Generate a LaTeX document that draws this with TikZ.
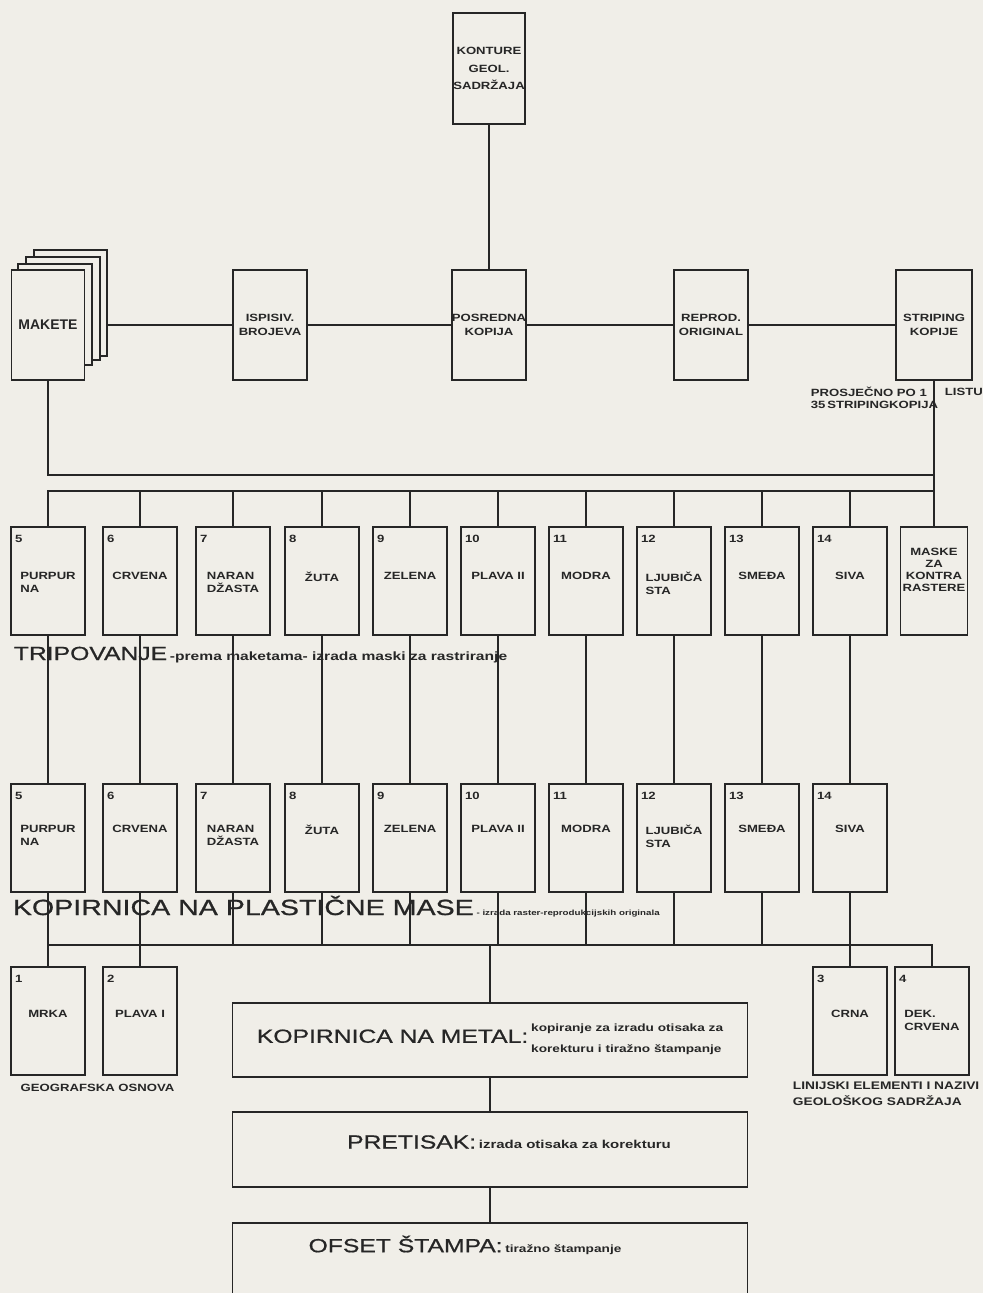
\documentclass[tikz,border=0pt]{standalone}
\usepackage{fontspec}
\setmainfont{Liberation Sans}
\newfontfamily\widesans[FakeStretch=1.25]{Liberation Sans}
\newfontfamily\widetitle[FakeStretch=1.3]{Liberation Sans}
\newfontfamily\widebig[FakeStretch=1.3,FakeBold=0.8]{Liberation Sans}
\usetikzlibrary{positioning}
\definecolor{ink}{HTML}{262626}
\definecolor{paper}{HTML}{F0EEE8}
\newcommand\bigttl{\widebig\fontsize{19}{22}\selectfont}
\newcommand\smallttl{\widetitle\bfseries\fontsize{10.5}{12}\selectfont}
\newcommand\colourlist{48/5/left/{PURPUR\\NA}, 140/6/center/CRVENA,
  233/7/left/{NARAN\\DŽASTA}, 322/8/center/ŽUTA, 410/9/center/ZELENA,
  498/10/center/PLAVA II, 586/11/center/MODRA, 674/12/left/{LJUBIČA\\STA},
  762/13/center/SMEĐA, 850/14/center/SIVA}

\begin{document}
\begin{tikzpicture}[x=1pt, y=-1pt, line width=1.8pt, color=ink,
  box/.style={draw, fill=paper, minimum width=74pt, minimum height=108pt,
    inner sep=0pt, align=center, font=\widesans\bfseries\fontsize{10.5}{14}\selectfont},
  sheet/.style={draw, fill=paper, inner sep=0pt},
  num/.style={anchor=north west, inner sep=0pt,
    font=\widesans\bfseries\fontsize{10.5}{12}\selectfont},
  lbl/.style={anchor=north, inner sep=0pt,
    font=\widesans\bfseries\fontsize{10.5}{13.5}\selectfont},
  note/.style={inner sep=0pt, font=\widesans\bfseries\fontsize{10.5}{12.5}\selectfont},
  wbox/.style={draw, fill=paper, minimum width=515pt, minimum height=74pt, inner sep=0pt}]
  \fill[paper] (0,0) rectangle (983,1293);
  \useasboundingbox (0,0) rectangle (983,1293);

  % top row
  \node[box, minimum width=72pt, minimum height=111pt,
    font=\widesans\bfseries\fontsize{10.5}{17.5}\selectfont] (kon) at (489,68.5)
    {KONTURE\\GEOL.\\SADRŽAJA};
  \node[sheet, minimum width=73pt, minimum height=106pt] (mak3) at (70.5,303) {};
  \node[sheet, minimum width=74pt, minimum height=103pt] (mak2) at (63,308.5) {};
  \node[sheet, minimum width=74pt, minimum height=101pt] (mak1) at (55,314.5) {};
  \node[box, minimum width=73pt, minimum height=110pt,
    font=\bfseries\fontsize{14}{16}\selectfont] (mak) at (48,325) {MAKETE};
  \node[box, minimum height=110pt] (isp) at (270,325) {ISPISIV.\\BROJEVA};
  \node[box, minimum height=110pt] (pos) at (489,325) {POSREDNA\\KOPIJA};
  \node[box, minimum height=110pt] (rep) at (711,325) {REPROD.\\ORIGINAL};
  \node[box, minimum width=76pt, minimum height=110pt] (str) at (934,325) {STRIPING\\KOPIJE};
  \node[note, anchor=north west, align=left] (pros) at (810,386)
    {PROSJEČNO PO 1\\35\,STRIPINGKOPIJA};
  \node[note, anchor=west] (listu) at (944,392) {LISTU};

  % colour separations
  \foreach \r/\yc/\off in {3/581/45, 4/838/41} {
    \foreach \x/\n/\al/\t [count=\i] in \colourlist {
      \node[box] (r\r-\i) at (\x,\yc) {};
      \node[num] (n\r-\i) at ([shift={(4pt,-8pt)}]r\r-\i.north west) {\n};
      \node[lbl, align=\al] (t\r-\i) at ([yshift=-\off pt]r\r-\i.north) {\t};
    }
  }
  \node[box, minimum width=67pt] (r3-11) at (934,581) {};
  \node[lbl, align=center, font=\widesans\bfseries\fontsize{10.5}{12}\selectfont]
    (t3-11) at ([yshift=-21pt]r3-11.north) {MASKE\\ZA\\KONTRA\\RASTERE};
  \node[anchor=base west, inner sep=0pt] (trip) at (13,660)
    {{\bigttl TRIPOVANJE} {\smallttl\fontsize{12}{14}\selectfont -prema maketama- izrada maski za rastriranje}};
  \node[anchor=base west, inner sep=0pt] (plast) at (12,915)
    {{\bigttl\fontsize{22}{24}\selectfont KOPIRNICA NA PLASTIČNE MASE} {\smallttl\fontsize{7.5}{9}\selectfont - izrada raster-reprodukcijskih originala}};

  % final plates
  \foreach \x/\n/\t [count=\i] in {48/1/MRKA, 140/2/PLAVA I, 850/3/CRNA, 932/4/{DEK.\\CRVENA}} {
    \node[box] (r5-\i) at (\x,1021) {};
    \node[num] (n5-\i) at ([shift={(4pt,-8pt)}]r5-\i.north west) {\n};
    \node[lbl, align=left] (t5-\i) at ([yshift=-43pt]r5-\i.north) {\t};
  }
  \node[note] (geo) at (97.5,1088) {GEOGRAFSKA OSNOVA};
  \node[note, anchor=north west, align=left,
    font=\widesans\bfseries\fontsize{11}{16}\selectfont] (lin) at (792,1081)
    {LINIJSKI ELEMENTI I NAZIVI\\GEOLOŠKOG SADRŽAJA};

  \node[wbox] (metal) at (490,1040)
    {{\bigttl KOPIRNICA NA METAL:}\hspace{3pt}{\smallttl\begin{tabular}{@{}l@{}}kopiranje za izradu otisaka za\\[9pt]korekturu i tiražno štampanje\end{tabular}}};
  \node[wbox, minimum height=75pt] (pret) at (490,1149.5) {};
  \node[inner sep=0pt] (prett) at (509,1142)
    {{\bigttl PRETISAK:} {\smallttl\fontsize{11.5}{13}\selectfont izrada otisaka za korekturu}};
  \node[wbox, minimum height=75pt] (ofs) at (490,1260.5) {};
  \node[inner sep=0pt] (ofst) at (465,1245)
    {{\bigttl OFSET ŠTAMPA:} {\smallttl tiražno štampanje}};

  % connectors
  \coordinate (busA) at (934,475);
  \coordinate (busB) at (934,491);
  \coordinate (busC) at (932,945);
  \draw (kon) -- (pos);
  \draw (isp.west -| mak3.east) -- (isp) -- (pos) -- (rep) -- (str);
  \draw (mak.south) |- (busA);
  \draw (str.south) -- (r3-11.north);
  \draw (r3-1.north) |- (busB);
  \foreach \i in {2,...,10} {\draw (r3-\i.north) -- (r3-\i.north |- busB);}
  \foreach \i in {1,...,10} {\draw (r3-\i.south) -- (r4-\i.north);}
  \foreach \i in {3,...,9} {\draw (r4-\i.south) -- (r4-\i.south |- busC);}
  \draw (r4-1.south) -- (r5-1.north);
  \draw (r4-2.south) -- (r5-2.north);
  \draw (r4-10.south) -- (r5-3.north);
  \draw (r5-1.north |- busC) -- (busC) -- (r5-4.north);
  \draw (metal.north |- busC) -- (metal);
  \draw (metal) -- (pret);
  \draw (pret) -- (ofs);
\end{tikzpicture}
\end{document}
